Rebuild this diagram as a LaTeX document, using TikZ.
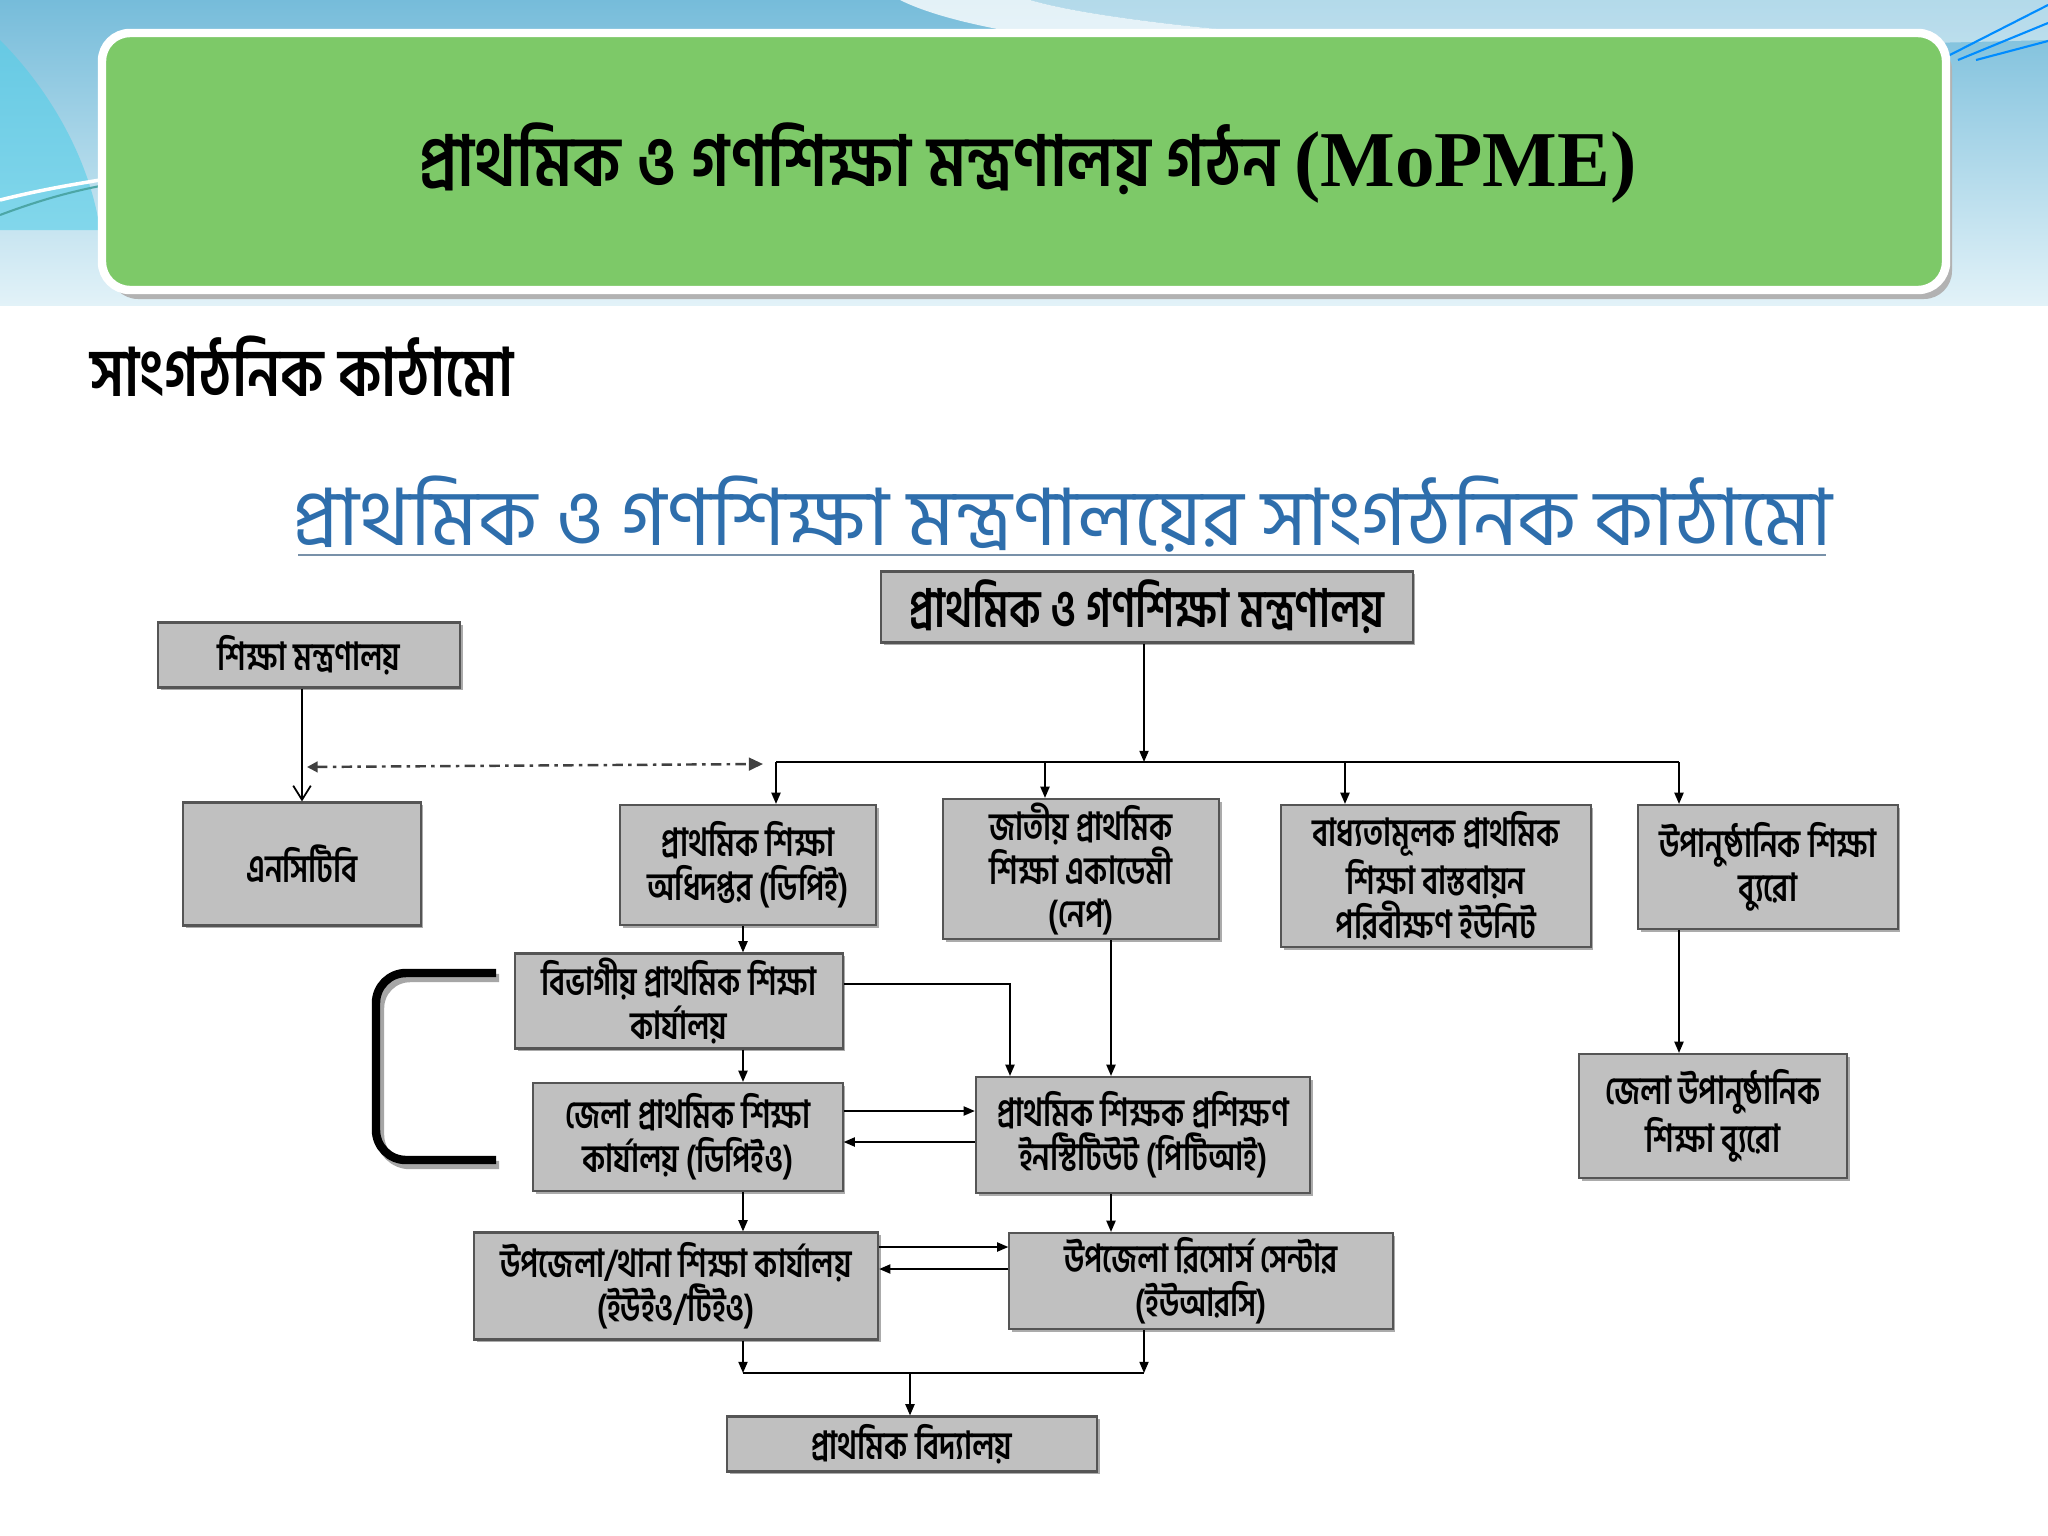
\documentclass[tikz,border=0pt]{standalone}
\usepackage{fontspec}
\setmainfont{Liberation Serif}
\newfontfamily\bnfont[Script=Bengali]{Hind Siliguri}
\newfontfamily\bnnarrow[Script=Bengali,FakeStretch=0.78]{Hind Siliguri}
\newfontfamily\bnhead[Script=Bengali,FakeStretch=0.9]{Hind Siliguri}
\newfontfamily\bnsub[Script=Bengali,FakeStretch=0.85]{Hind Siliguri}
\usetikzlibrary{arrows.meta,calc,positioning,shadows}
\definecolor{mopgreen}{RGB}{125,201,104}
\definecolor{boxgray}{RGB}{192,192,192}
\definecolor{boxline}{RGB}{85,85,85}
\definecolor{titleblue}{RGB}{46,110,172}
\definecolor{bandtop}{RGB}{118,188,218}
\definecolor{bandlow}{RGB}{226,242,248}
\definecolor{bandcyan}{RGB}{84,206,232}

\begin{document}
\begin{tikzpicture}[x=0.01cm, y=-0.01cm,
  box/.style={draw=boxline, fill=boxgray, line width=0.6pt, align=center, inner sep=1pt,
    font=\bnnarrow\bfseries\fontsize{11}{12.5}\selectfont,
    drop shadow={shadow xshift=0.8pt, shadow yshift=-0.8pt, fill=black!55, opacity=0.6}},
  arr/.style={-{Triangle[length=3.2pt,width=2.6pt]}, line width=0.5pt},
  link/.style={line width=0.5pt}]
\useasboundingbox (0,0) rectangle (2048,1536);
\fill[white] (0,0) rectangle (2048,1536);

% --- fascia di sfondo in alto ---
\fill[top color=bandtop, bottom color=bandlow] (0,0) rectangle (2048,305);
\fill[bandcyan, opacity=0.6] (0,40) .. controls (50,90) and (90,160) .. (100,230) -- (0,230) -- cycle;
\fill[white, opacity=0.8] (900,0) .. controls (960,30) and (1100,50) .. (1300,60) -- (1350,40) .. controls (1200,30) and (1080,15) .. (1030,0) -- cycle;
\fill[white, opacity=0.45] (1030,0) -- (2048,0) -- (2048,40) .. controls (1700,50) and (1450,45) .. (1350,40) .. controls (1200,30) and (1080,15) .. (1030,0);
\draw[white, line width=1pt] (0,200) .. controls (40,190) and (70,185) .. (100,180);
\draw[teal!70, line width=0.6pt] (0,215) .. controls (40,200) and (70,192) .. (100,186);
\foreach \dx in {0,18,36}
  \draw[blue!45!cyan, line width=0.6pt] (1940+\dx,60) -- (2048,5+\dx);

% --- intestazione verde ---
\fill[black!30] (110,42) [rounded corners=0.28cm] rectangle (1952,299);
\draw[white, line width=2.4pt, fill=mopgreen, rounded corners=0.28cm] (102,33) rectangle (1946,290);
\node[font=\bnhead\bfseries\fontsize{20}{24}\selectfont] (head) at (1028,163)
  {প্রাথমিক ও গণশিক্ষা মন্ত্রণালয় গঠন {\rmfamily\fontsize{22.5}{24}\selectfont(MoPME)}};

% --- titoli ---
\node[anchor=west, font=\bnsub\bfseries\fontsize{19}{22}\selectfont] (sub) at (78,366) {সাংগঠনিক কাঠামো};
\node[font=\bnfont\fontsize{22.5}{26}\selectfont, text=titleblue] (chart) at (1062,514)
  {প্রাথমিক ও গণশিক্ষা মন্ত্রণালয়ের সাংগঠনিক কাঠামো};
\draw[black!35!titleblue!60, line width=0.8pt] (298,555) -- (1826,555);

% --- riquadri ---
\node[box, minimum width=5.31cm, minimum height=0.71cm, font=\bnnarrow\bfseries\fontsize{15}{17}\selectfont] (mopme) at (1147,607) {প্রাথমিক ও গণশিক্ষা মন্ত্রণালয়};
\node[box, minimum width=3.02cm, minimum height=0.65cm] (moe) at (309,655) {শিক্ষা মন্ত্রণালয়};
\node[box, minimum width=2.37cm, minimum height=1.23cm] (nctb) at (302,864) {এনসিটিবি};
\node[box, minimum width=2.56cm, minimum height=1.20cm] (dpe) at (748,865) {প্রাথমিক শিক্ষা\\অধিদপ্তর (ডিপিই)};
\node[box, minimum width=2.76cm, minimum height=1.29cm] (nape) at (1081,869) {জাতীয় প্রাথমিক\\শিক্ষা একাডেমী\\(নেপ)};
\node[box, minimum width=3.09cm, minimum height=1.42cm] (cpe) at (1436,876) {বাধ্যতামূলক প্রাথমিক\\শিক্ষা বাস্তবায়ন\\পরিবীক্ষণ ইউনিট};
\node[box, minimum width=2.59cm, minimum height=1.24cm] (nfe) at (1768,867) {উপানুষ্ঠানিক শিক্ষা\\ব্যুরো};
\node[box, minimum width=3.27cm, minimum height=0.95cm] (div) at (679,1001) {বিভাগীয় প্রাথমিক শিক্ষা\\কার্যালয়};
\node[box, minimum width=3.09cm, minimum height=1.08cm] (dpeo) at (688,1137) {জেলা প্রাথমিক শিক্ষা\\কার্যালয় (ডিপিইও)};
\node[box, minimum width=3.34cm, minimum height=1.16cm] (pti) at (1143,1135) {প্রাথমিক শিক্ষক প্রশিক্ষণ\\ইনস্টিটিউট (পিটিআই)};
\node[box, minimum width=2.68cm, minimum height=1.24cm] (dnfe) at (1713,1116) {জেলা উপানুষ্ঠানিক\\শিক্ষা ব্যুরো};
\node[box, minimum width=4.04cm, minimum height=1.07cm] (ueo) at (676,1286) {উপজেলা/থানা শিক্ষা কার্যালয়\\(ইউইও/টিইও)};
\node[box, minimum width=3.83cm, minimum height=0.96cm] (urc) at (1201,1281) {উপজেলা রিসোর্স সেন্টার\\(ইউআরসি)};
\node[box, minimum width=3.70cm, minimum height=0.55cm] (school) at (912,1444) {প্রাথমিক বিদ্যালয়};

% --- collegamenti ---
\coordinate (busM) at (1144,762);
\coordinate (busL) at (776,762);
\coordinate (busR) at (1679,762);
\coordinate (bNape) at (1045,762);
\coordinate (bCpe) at (1345,762);
\draw[arr] (mopme.south -| busM) -- (busM);
\draw[link] (busL) -- (busR);
\draw[arr] (busL) -- (busL |- dpe.north);
\draw[arr] (bNape) -- (bNape |- nape.north);
\draw[arr] (bCpe) -- (bCpe |- cpe.north);
\draw[arr] (busR) -- (busR |- nfe.north);
\draw[arr] (nfe.south -| busR) -- (busR |- dnfe.north);

\draw[-{Straight Barb[length=4pt,width=5pt]}, link] (moe.south -| nctb.north) -- (nctb.north);
\coordinate (dotL) at (307,767);
\coordinate (dotR) at (763,764);
\draw[{Triangle[length=3pt,width=3pt]}-{Triangle[length=4pt,width=3.6pt]}, black!75, line width=0.7pt,
  dash pattern=on 3pt off 1.5pt on 1pt off 1.5pt] (dotL) -- (dotR);

\coordinate (colD) at (743,0);
\draw[arr] (dpe.south -| colD) -- (div.north -| colD);
\draw[arr] (div.south -| colD) -- (dpeo.north -| colD);
\draw[arr] (dpeo.south -| colD) -- (ueo.north -| colD);

\coordinate (divTurn) at (1010,984);
\draw[arr] (div.east |- divTurn) -- (divTurn) -- (divTurn |- pti.north);
\coordinate (colN) at (1111,0);
\draw[arr] (nape.south -| colN) -- (pti.north -| colN);
\draw[arr] (pti.south -| colN) -- (urc.north -| colN);

\coordinate (rowA) at (0,1111);
\coordinate (rowB) at (0,1142);
\draw[arr] (dpeo.east |- rowA) -- (pti.west |- rowA);
\draw[arr] (pti.west |- rowB) -- (dpeo.east |- rowB);
\coordinate (rowC) at (0,1247);
\coordinate (rowD) at (0,1269);
\draw[arr] (ueo.east |- rowC) -- (urc.west |- rowC);
\draw[arr] (urc.west |- rowD) -- (ueo.east |- rowD);

\coordinate (baseL) at (743,1373);
\coordinate (baseR) at (1144,1373);
\coordinate (baseM) at (910,1373);
\draw[arr] (ueo.south -| baseL) -- (baseL);
\draw[arr] (urc.south -| baseR) -- (baseR);
\draw[link] (baseL) -- (baseR);
\draw[arr] (baseM) -- (baseM |- school.north);

% --- parentesi a sinistra ---
\draw[black!35, line width=2.4pt, rounded corners=0.3cm] (499,978) -- (380,978) -- (380,1165) -- (499,1165);
\draw[black, line width=2.4pt, rounded corners=0.3cm] (496,973) -- (376,973) -- (376,1160) -- (496,1160);
\end{tikzpicture}
\end{document}
